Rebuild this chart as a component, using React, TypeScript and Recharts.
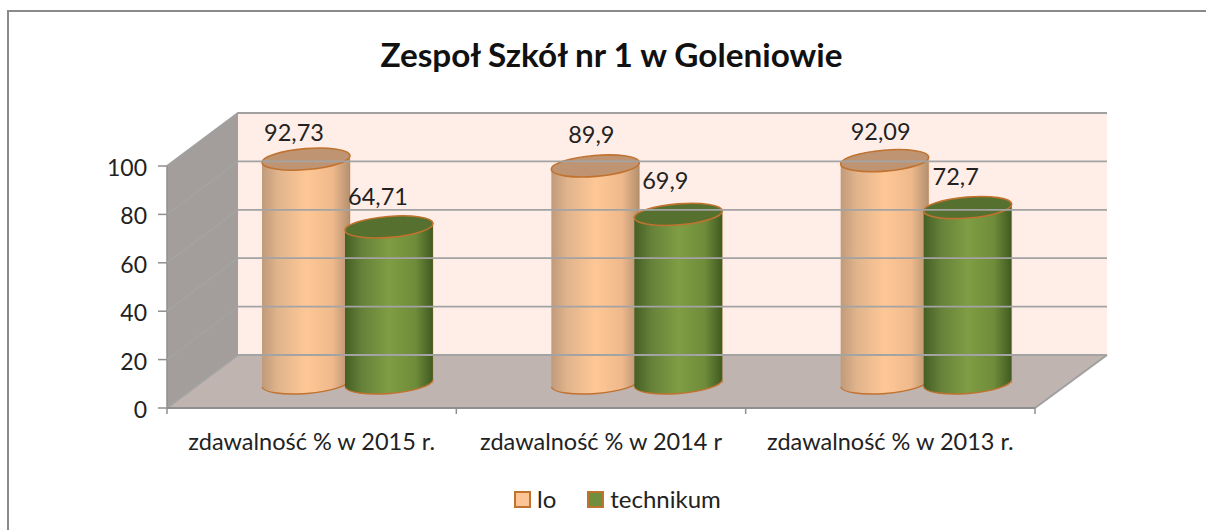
import React from "react";
import { BarChart, Bar, XAxis, YAxis, Legend, LabelList, ReferenceArea, ReferenceLine } from "recharts";

const categories = ["zdawalność % w 2015 r.", "zdawalność % w 2014 r", "zdawalność % w 2013 r."];
const loValues = [92.73, 89.9, 92.09];
const technikumValues = [64.71, 69.9, 72.7];
const yTicks = [0, 20, 40, 60, 80, 100];
const data = categories.map((name, i) => ({ name, lo: loValues[i], technikum: technikumValues[i] }));

const W = 1206, H = 530;
const PLOT = { left: 167, right: 1035, top: 166, bottom: 408 };
const DEPTH_X = 71, DEPTH_Y = -53;
const BAR_DX = 36, BAR_DY = -24.5;
const BAR_W = 88;
const FONT = "Lato, Carlito, sans-serif";
const TEXT = "#222222";
const OUTLINE = "#c0722f";
const AXIS = "#8f8f8f";

const loNudge = [[-12, -27], [-4, -32], [-4, -30]];
const techNudge = [[-11, -31], [-13, -34], [-12, -32]];

const Cylinder = (top: string, grad: string) => (p: any) => {
  const cx = p.x + p.width / 2 + BAR_DX;
  const ty = p.y + BAR_DY;
  const by = p.y + p.height + BAR_DY;
  const rx = p.width / 2, ry = 10.5, tilt = 3.6;
  const body = `M${cx - rx},${ty + tilt} L${cx - rx},${by + tilt} A${rx + 0.2},${ry} -4.6 0 0 ${cx + rx},${by - tilt} L${cx + rx},${ty - tilt} Z`;
  const bottom = `M${cx - rx},${by + tilt} A${rx + 0.2},${ry} -4.6 0 0 ${cx + rx},${by - tilt}`;
  return (
    <g>
      <path d={body} fill={`url(#${grad})`} />
      <path d={bottom} fill="none" stroke={OUTLINE} strokeWidth={1.4} />
      <line x1={cx + rx} y1={ty} x2={cx + rx} y2={by} stroke={OUTLINE} strokeOpacity={0.35} />
      <ellipse cx={cx} cy={ty} rx={rx + 0.2} ry={ry} transform={`rotate(-4.6 ${cx} ${ty})`} fill={top} stroke={OUTLINE} strokeWidth={1.6} />
    </g>
  );
};

const WallShape = (p: any) => {
  const { x, y, width, height } = p;
  const b = y + height, r = x + width;
  const bx = x + DEPTH_X, by = b + DEPTH_Y, ty = y + DEPTH_Y;
  return (
    <g>
      <rect x={bx} y={ty} width={r - x + 1} height={height} fill="#feeee7" />
      <polygon points={`${x},${y} ${bx},${ty} ${bx},${by} ${x},${b}`} fill="#a39e9b" />
      <polygon points={`${x},${b} ${bx},${by} ${r + DEPTH_X + 1},${by} ${r},${b}`} fill="#bfb4b0" />
      <polyline points={`${x},${y} ${bx},${ty} ${r + DEPTH_X + 1},${ty}`} fill="none" stroke="#a0a0a0" strokeWidth={2} />
      <line x1={x} y1={y} x2={x} y2={b} stroke={AXIS} strokeWidth={1.5} />
      <line x1={r} y1={b} x2={r + DEPTH_X + 1} y2={by} stroke="#a0a0a0" strokeWidth={2} />
    </g>
  );
};

const GridShape = (p: any) => {
  const x1 = PLOT.left, x2 = PLOT.right, y = p.y1 ?? p.viewBox?.y;
  return (
    <polyline
      points={`${x1},${y} ${x1 + DEPTH_X},${y + DEPTH_Y} ${x2 + DEPTH_X + 1},${y + DEPTH_Y}`}
      fill="none" stroke="#a3a3a3" strokeWidth={1.8}
    />
  );
};

const XTick = (p: any) => {
  const band = (PLOT.right - PLOT.left) / categories.length;
  const left = p.x - band / 2, right = p.x + band / 2;
  return (
    <g>
      <line x1={left} y1={PLOT.bottom} x2={left} y2={PLOT.bottom + 6} stroke={AXIS} strokeWidth={1.5} />
      {p.index === categories.length - 1 && (
        <line x1={right} y1={PLOT.bottom} x2={right} y2={PLOT.bottom + 6} stroke={AXIS} strokeWidth={1.5} />
      )}
      <text x={p.x} y={450} textAnchor="middle" fontFamily={FONT} fontSize={23.5} fill={TEXT}>{p.payload.value}</text>
    </g>
  );
};

const YTick = (p: any) => (
  <text x={p.x + 1} y={p.y + 1} textAnchor="end" dominantBaseline="central" fontFamily={FONT} fontSize={23} fill={TEXT}>
    {p.payload.value}
  </text>
);

const DataLabel = (nudge: number[][]) => (p: any) => {
  const [dx, dy] = nudge[p.index];
  return (
    <text x={p.x + p.width / 2 + BAR_DX + dx} y={p.y + BAR_DY + dy} textAnchor="middle" dominantBaseline="central"
      fontFamily={FONT} fontSize={23.5} fill={TEXT}>
      {String(p.value).replace(".", ",")}
    </text>
  );
};

const LegendContent = (p: any) => (
  <div style={{ display: "flex", alignItems: "center", fontFamily: FONT, fontSize: 24, color: TEXT, position: "absolute", left: 514, top: 0, whiteSpace: "nowrap", lineHeight: "30px" }}>
    {(p.payload || []).map((e: any, i: number) => (
      <div key={e.value} style={{ display: "flex", alignItems: "center", marginRight: i === 0 ? 31 : 0 }}>
        <span style={{ width: 13, height: 13, background: e.color, border: `2.5px solid ${OUTLINE}`, marginRight: 6, display: "inline-block" }} />
        <span>{e.value}</span>
      </div>
    ))}
  </div>
);

export default function App() {
  return (
    <div style={{ position: "absolute", left: 0, top: 0, width: W, height: H, overflow: "hidden", background: "#fff" }}>
      <div style={{ position: "absolute", left: 7, top: 10, width: W + 50, height: H + 50, border: "2.5px solid #8a8a8a", boxSizing: "border-box" }} />
      <BarChart
        width={W} height={H} data={data} barSize={BAR_W} barGap={-5} barCategoryGap={0}
        margin={{ left: PLOT.left - 60, right: W - PLOT.right, top: PLOT.top, bottom: H - PLOT.bottom - 40 }}
        style={{ position: "absolute", left: 0, top: 0 }}
      >
        <defs>
          <linearGradient id="gradLo" x1="0" x2="1" y1="0" y2="0">
            <stop offset="0" stopColor="#c09a7a" />
            <stop offset="0.18" stopColor="#e0b48c" />
            <stop offset="0.5" stopColor="#fec795" />
            <stop offset="0.8" stopColor="#efb98c" />
            <stop offset="1" stopColor="#b3906f" />
          </linearGradient>
          <linearGradient id="gradTech" x1="0" x2="1" y1="0" y2="0">
            <stop offset="0" stopColor="#445f24" />
            <stop offset="0.2" stopColor="#66823a" />
            <stop offset="0.5" stopColor="#7f9d43" />
            <stop offset="0.8" stopColor="#6f8c3a" />
            <stop offset="1" stopColor="#3f5a20" />
          </linearGradient>
        </defs>
        <text x={611.5} y={67} textAnchor="middle" fontFamily={FONT} fontWeight={700} fontSize={33.3} fill="#111">Zespoł Szkół nr 1 w Goleniowie</text>
        <XAxis dataKey="name" axisLine={{ stroke: AXIS, strokeWidth: 2 }} tickLine={false} height={40} tick={XTick} interval={0} />
        <YAxis
          width={60} domain={[0, 100]} ticks={yTicks} axisLine={false}
          tickLine={{ stroke: AXIS, strokeWidth: 1.5 }} tickSize={9} tickMargin={12}
          tick={YTick}
        />
        <ReferenceArea y1={0} y2={100} shape={WallShape} ifOverflow="visible" />
        {yTicks.slice(0, -1).map((t) => (
          <ReferenceLine key={t} y={t} shape={GridShape} ifOverflow="visible" />
        ))}
        <Legend verticalAlign="middle" align="center" layout="horizontal" content={LegendContent}
          wrapperStyle={{ top: 484, left: 0, width: W, height: 30 }} />
        <Bar dataKey="lo" name="lo" fill="#fdc596" shape={Cylinder("#bf9472", "gradLo")} isAnimationActive={false}>
          <LabelList dataKey="lo" content={DataLabel(loNudge)} />
        </Bar>
        <Bar dataKey="technikum" name="technikum" fill="#6f8f3c" shape={Cylinder("#56702f", "gradTech")} isAnimationActive={false}>
          <LabelList dataKey="technikum" content={DataLabel(techNudge)} />
        </Bar>
      </BarChart>
    </div>
  );
}
